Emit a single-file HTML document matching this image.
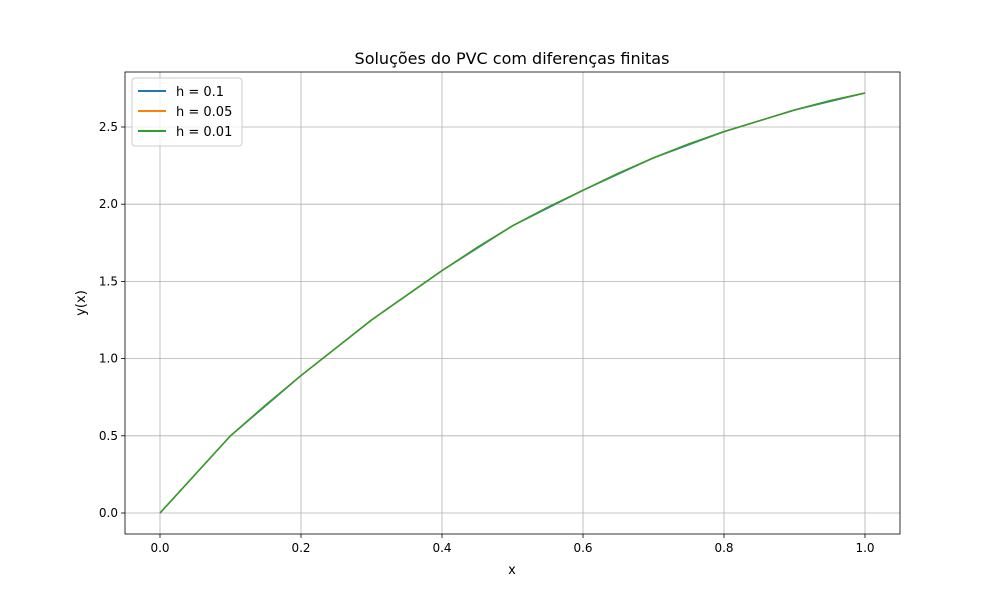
<!DOCTYPE html>
<html><head><meta charset="utf-8"><style>
body{margin:0;background:#fff;font-family:"Liberation Sans","DejaVu Sans",sans-serif;}
svg text{font-family:"DejaVu Sans","Liberation Sans",sans-serif;}
</style></head><body>
<svg id="chart" width="1000" height="600" xmlns="http://www.w3.org/2000/svg">
<rect width="1000" height="600" fill="#fff"/>
<g id="grid"></g><g id="series"></g><g id="axes"></g>
<text x="512" y="64" font-size="16" text-anchor="middle">Soluções do PVC com diferenças finitas</text>
<text x="512" y="574" font-size="13" text-anchor="middle">x</text>
<text transform="translate(85,303) rotate(-90)" font-size="13" text-anchor="middle">y(x)</text>
<g>
<rect x="132" y="78" width="110" height="68" fill="#fff" fill-opacity="0.8" stroke="#ccc" rx="3"/>
<line x1="138" y1="91" x2="166" y2="91" stroke="#1f77b4" stroke-width="2"/>
<text x="176" y="96" font-size="13">h = 0.1</text>
<line x1="138" y1="111" x2="166" y2="111" stroke="#ff7f0e" stroke-width="2"/>
<text x="176" y="116" font-size="13">h = 0.05</text>
<line x1="138" y1="131" x2="166" y2="131" stroke="#2ca02c" stroke-width="2"/>
<text x="176" y="136" font-size="13">h = 0.01</text>
</g>
</svg>
<script>
const xTicks=[0,0.2,0.4,0.6,0.8,1.0];
const xTickLabels=["0.0","0.2","0.4","0.6","0.8","1.0"];
const yTicks=[0,0.5,1,1.5,2,2.5];
const yTickLabels=["0.0","0.5","1.0","1.5","2.0","2.5"];
const xH01=[0,0.1,0.2,0.3,0.4,0.5,0.6,0.7,0.8,0.9,1.0];
const yH01=[0,0.50,0.89,1.25,1.57,1.86,2.09,2.30,2.47,2.61,2.72];
const xH005=[0,0.05,0.1,0.15,0.2,0.25,0.3,0.35,0.4,0.45,0.5,0.55,0.6,0.65,0.7,0.75,0.8,0.85,0.9,0.95,1.0];
const yH005=[0,0.25,0.50,0.70,0.89,1.07,1.25,1.41,1.57,1.72,1.86,1.98,2.09,2.20,2.30,2.39,2.47,2.54,2.61,2.67,2.72];
const xH001=xH005.slice();
const yH001=[0,0.25,0.50,0.70,0.89,1.07,1.25,1.41,1.57,1.72,1.86,1.98,2.09,2.20,2.30,2.39,2.47,2.54,2.61,2.67,2.72];
const NS="http://www.w3.org/2000/svg";
const L=125,R=900,T=72,B=534;
function sx(v){return 160+v*705;}
function sy(v){return 513-v*154.4;}
function mk(tag,attrs,parent){const e=document.createElementNS(NS,tag);for(const k in attrs)e.setAttribute(k,attrs[k]);parent.appendChild(e);return e;}
const grid=document.getElementById('grid'),axes=document.getElementById('axes'),ser=document.getElementById('series');
xTicks.forEach((v,i)=>{const x=sx(v);
 const g=mk('line',{x1:x,x2:x,y1:T,y2:B,stroke:'#b0b0b0','stroke-width':0.8},grid);
 
 
 mk('line',{x1:x,x2:x,y1:B,y2:B+4,stroke:'#000','stroke-width':0.8},axes);
 const t=mk('text',{x:x,y:B+18,'font-size':12,'text-anchor':'middle'},axes);t.textContent=xTickLabels[i];
 
 });
yTicks.forEach((v,i)=>{const y=sy(v);
 const g=mk('line',{x1:L,x2:R,y1:y,y2:y,stroke:'#b0b0b0','stroke-width':0.8},grid);
 
 
 mk('line',{x1:L-4,x2:L,y1:y,y2:y,stroke:'#000','stroke-width':0.8},axes);
 const t=mk('text',{x:L-7,y:y+4,'font-size':12,'text-anchor':'end'},axes);t.textContent=yTickLabels[i];
 
 });
const frame=mk('rect',{x:L,y:T,width:R-L,height:B-T,fill:'none',stroke:'#000','stroke-width':0.8},axes);


[[xH01,yH01,'#1f77b4','line-h01'],[xH005,yH005,'#ff7f0e','line-h005'],[xH001,yH001,'#2ca02c','line-h001']].forEach(([xs,ys,c,n])=>{
 const p=mk('polyline',{points:xs.map((x,i)=>sx(x)+','+sy(ys[i])).join(' '),fill:'none',stroke:c,'stroke-width':1.5},ser);
 
 });
</script>
</body></html>
